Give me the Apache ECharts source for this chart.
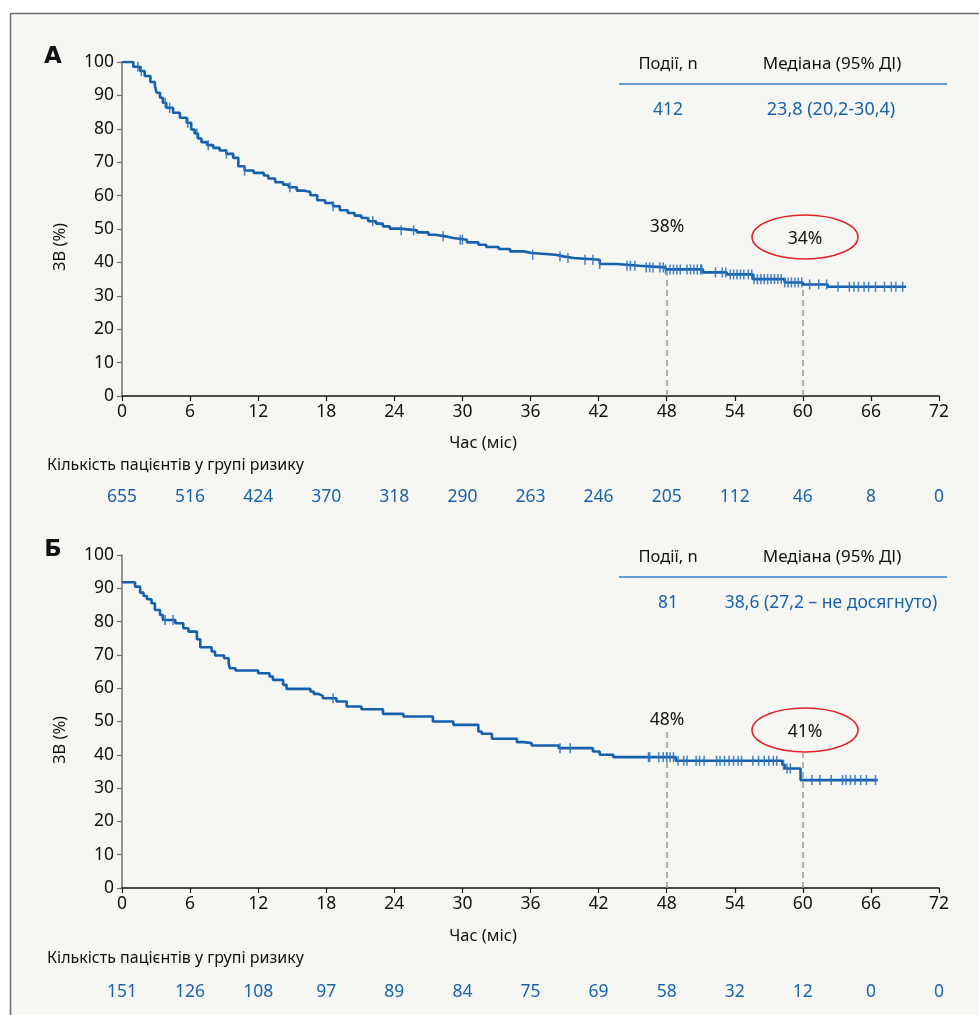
<!DOCTYPE html>
<html>
<head>
<meta charset="utf-8">
<script src="https://cdn.jsdelivr.net/npm/echarts@6/dist/echarts.min.js"></script>
<style>
html,body{margin:0;padding:0;background:#fff;}
#chart{width:979px;height:1015px;}
</style>
</head>
<body>
<div id="chart"></div>
<script>
// ---------- DATA ----------
const xTicks = [0, 6, 12, 18, 24, 30, 36, 42, 48, 54, 60, 66, 72];
const riskA = [655, 516, 424, 370, 318, 290, 263, 246, 205, 112, 46, 8, 0];
const riskB = [151, 126, 108, 97, 89, 84, 75, 69, 58, 32, 12, 0, 0];

const timesA = [0, 1.0, 1.6, 2.0, 2.5, 2.9, 3.05, 3.35, 3.6, 3.9, 4.5, 5.1, 5.7, 6.1, 6.4, 6.7, 7.0, 7.5, 8.05, 8.6, 9.2, 9.8, 10.25, 10.8, 11.6, 12.5, 12.9, 13.5, 14.2, 14.7, 15.4, 16.0, 16.6, 17.2, 17.9, 18.6, 19.2, 19.9, 20.5, 21.1, 21.7, 22.4, 23.0, 23.6, 24.5, 26.0, 27.0, 27.6, 28.5, 29.2, 30.4, 31.4, 32.1, 33.2, 34.2, 35.4, 36.1, 38.2, 38.9, 39.8, 42.1, 43.6, 45.6, 47.9, 51.2, 53.3, 55.6, 58.4, 60.0, 62.2, 69.1];
const survA = [100, 98.6, 97.3, 95.8, 94, 92.8, 90.8, 89.3, 87.8, 86.3, 84.8, 83.3, 81.8, 79.8, 78.6, 77.1, 76, 75.1, 74.3, 73.5, 72.5, 71.3, 68.8, 67.5, 66.8, 66, 65.1, 64, 63.3, 62.5, 61.5, 61.1, 60.1, 58.6, 57.8, 56.8, 55.6, 54.8, 54, 53.3, 52.3, 51.6, 50.8, 50.1, 49.6, 49, 48.3, 47.8, 47.3, 46.8, 46, 45.3, 44.6, 44, 43.3, 42.8, 42.3, 41.8, 41.3, 40.8, 39.5, 39.0, 38.5, 37.9, 37.0, 36.4, 35.0, 34.0, 33.4, 32.7, 32.7];
const censorA = [1.4, 1.7, 3.8, 4.2, 5.8, 6.6, 7.6, 9.2, 10.8, 14.8, 18.6, 22.1, 24.6, 25.7, 28.3, 29.8, 30.0, 36.2, 38.6, 39.3, 40.8, 41.5, 42.1, 44.5, 44.8, 45.2, 46.2, 46.5, 46.8, 47.4, 47.7, 47.9, 48.3, 48.6, 48.9, 49.2, 49.8, 50.1, 50.4, 50.7, 51.0, 51.1, 52.3, 52.9, 53.2, 53.6, 53.9, 54.2, 54.5, 54.8, 55.2, 55.5, 55.7, 56.0, 56.3, 56.6, 56.9, 57.2, 57.5, 57.8, 58.1, 58.4, 58.7, 59.0, 59.3, 59.6, 59.9, 60.6, 61.4, 62.1, 63.1, 64.1, 64.5, 64.9, 65.4, 65.8, 66.4, 67.2, 67.8, 68.2, 68.8];

const timesB = [0, 1.15, 1.6, 1.9, 2.2, 2.6, 2.9, 3.35, 3.6, 4.7, 5.4, 5.85, 6.6, 6.9, 7.9, 8.2, 9.0, 9.4, 9.5, 10.0, 12.0, 13.0, 13.3, 14.2, 14.5, 16.6, 16.9, 17.3, 17.7, 18.9, 19.8, 21.1, 23.0, 24.8, 27.4, 29.2, 31.4, 31.7, 32.6, 34.8, 35.4, 36.1, 38.5, 41.5, 42.1, 43.3, 48.8, 58.2, 58.4, 59.8, 66.6];
const survB = [91.8, 90.5, 88.7, 87.7, 86.7, 85.5, 83.5, 82, 80.5, 79.5, 78, 77, 74.7, 72.3, 71, 69.8, 69, 67.5, 66, 65.3, 64.5, 63.5, 62.5, 61, 59.8, 59, 58.3, 57.7, 57, 56, 54.5, 53.7, 52.3, 51.5, 50, 49, 47, 46.3, 44.8, 43.8, 43.5, 42.8, 42, 41, 40, 39.3, 38.2, 37, 35.9, 32.4, 32.4];
const censorB = [3.8, 4.5, 18.6, 38.6, 39.5, 46.4, 46.5, 47.3, 47.7, 48.0, 48.3, 48.6, 49.0, 49.5, 49.8, 50.6, 50.9, 51.3, 52.4, 52.7, 53.1, 53.5, 53.9, 54.3, 54.6, 55.6, 56.1, 56.6, 57.0, 57.4, 57.7, 58.3, 58.6, 58.9, 60.8, 61.5, 62.5, 63.5, 63.8, 64.2, 64.6, 65.1, 65.6, 66.4];

const landmarks = [48, 60];
const landmarkA = ['38%', '34%'];
const landmarkB = ['48%', '41%'];

const tableHead = ['Події, n', 'Медіана (95% ДІ)'];
const tableA = ['412', '23,8 (20,2-30,4)'];
const tableB = ['81', '38,6 (27,2 – не досягнуто)'];

// ---------- HELPERS ----------
function survAt(times, surv, t) {
  let v = surv[0];
  for (let i = 0; i < times.length; i++) { if (times[i] <= t) v = surv[i]; else break; }
  return v;
}
const pairs = (ts, ss) => ts.map((t, i) => [t, ss[i]]);
const censorPts = (cs, ts, ss) => cs.map(t => [t, survAt(ts, ss, t)]);

const FONT = 'Noto Sans';
const BLUE = '#1b62ad';
const TXT = '#111111';
const LINE = '#1560ae';

const chart = echarts.init(document.getElementById('chart'));

function xMain(g) {
  return {
    type: 'value', gridIndex: g, min: 0, max: 72, interval: 6,
    axisLine: { show: true, onZero: false, lineStyle: { color: '#111', width: 1.5 } },
    axisTick: { show: true, length: 5, lineStyle: { color: '#111', width: 1.2 } },
    splitLine: { show: false },
    axisLabel: { fontSize: 17.5, color: TXT, margin: 7, fontFamily: FONT, showMinLabel: true, showMaxLabel: true }
  };
}
function xRisk(g, risk, off) {
  return {
    type: 'value', gridIndex: g, min: 0, max: 72, interval: 6, position: 'bottom', offset: off,
    axisLine: { show: false }, axisTick: { show: false }, splitLine: { show: false },
    axisLabel: { fontSize: 17.5, color: BLUE, margin: 0, fontFamily: FONT, showMinLabel: true, showMaxLabel: true,
      formatter: v => String(risk[Math.round(v / 6)]) }
  };
}
function yMain(g) {
  return {
    type: 'value', gridIndex: g, min: 0, max: 100, interval: 10,
    axisLine: { show: true, lineStyle: { color: '#707070', width: 1.5 } },
    axisTick: { show: true, length: 5, lineStyle: { color: '#707070', width: 1.2 } },
    splitLine: { show: false },
    axisLabel: { fontSize: 17.5, color: TXT, margin: 8, fontFamily: FONT }
  };
}
function kmSeries(idx, ts, ss, marks) {
  return {
    type: 'line', xAxisIndex: idx * 2, yAxisIndex: idx, step: 'end', showSymbol: false, symbol: 'none',
    data: pairs(ts, ss), lineStyle: { color: LINE, width: 2.6 }, z: 5, silent: true,
    markLine: {
      symbol: 'none', silent: true, label: { show: false },
      lineStyle: { type: [6, 4], color: '#9a9a9a', width: 1.5 },
      data: marks
    }
  };
}
function censorSeries(idx, cs, ts, ss) {
  return {
    type: 'scatter', xAxisIndex: idx * 2, yAxisIndex: idx, symbol: 'rect', symbolSize: [1.5, 10],
    itemStyle: { color: '#2f74c0', opacity: 0.9 }, data: censorPts(cs, ts, ss), z: 6, silent: true
  };
}
const marksA = [
  [{ coord: [landmarks[0], 0] }, { coord: [landmarks[0], survAt(timesA, survA, landmarks[0])] }],
  [{ coord: [landmarks[1], 0] }, { coord: [landmarks[1], survAt(timesA, survA, landmarks[1])] }]
];
const marksB = [
  [{ coord: [landmarks[0], 0] }, { coord: [landmarks[0], 47.5] }],
  [{ coord: [landmarks[1], 0] }, { coord: [landmarks[1], 40.5] }]
];

function t(x, y, text, opt) {
  return Object.assign({ type: 'text', x: x, y: y, z: 20,
    style: Object.assign({ text: text, fontFamily: FONT, fontSize: 15, fill: TXT, align: 'center', verticalAlign: 'middle' }, opt || {}) });
}
function panelGraphics(dy, lab, tbl, lm) {
  return [
    t(53, 57 + dy, lab, { fontSize: 23, fontWeight: 'bold', fontFamily: 'DejaVu Sans' }),
    t(668, 64 + dy, tableHead[0], { fontSize: 16.5 }),
    t(832, 64 + dy, tableHead[1], { fontSize: 17 }),
    { type: 'line', z: 20, shape: { x1: 619, y1: 84 + dy, x2: 947, y2: 84 + dy }, style: { stroke: '#3b7cc6', lineWidth: 1.5 } },
    t(668, 110 + dy, tbl[0], { fontSize: 17.5, fill: BLUE }),
    t(831, 110 + dy, tbl[1], { fontSize: dy ? 17.5 : 18, fill: BLUE }),
    t(667, 227 + dy, lm[0], { fontSize: 17.5 }),
    { type: 'ellipse', z: 20, shape: { cx: 805, cy: 237 + dy, rx: 53, ry: 22 }, style: { fill: 'none', stroke: '#e2222b', lineWidth: 1.6 } },
    t(805, 239 + dy, lm[1], { fontSize: 17.5 }),
    t(60, 247 + dy, 'ЗВ (%)', { fontSize: 16.5 }),
    t(483, 443 + dy, 'Час (міс)', { fontSize: 16.5 }),
    t(47, 465 + dy, 'Кількість пацієнтів у групі ризику', { fontSize: 16, align: 'left' })
  ];
}
const gA = panelGraphics(0, 'А', tableA, landmarkA);
const gB = panelGraphics(493, 'Б', tableB, landmarkB);
// rotate y-axis names
[gA, gB].forEach(g => { const e = g[9]; e.rotation = Math.PI / 2; });

chart.setOption({
  backgroundColor: '#f6f6f2',
  animation: false,
  textStyle: { fontFamily: FONT },
  grid: [
    { left: 122, top: 62, width: 817, height: 334 },
    { left: 122, top: 555, width: 817, height: 333 }
  ],
  xAxis: [xMain(0), xRisk(0, riskA, 92), xMain(1), xRisk(1, riskB, 95)],
  yAxis: [yMain(0), yMain(1)],
  series: [
    kmSeries(0, timesA, survA, marksA),
    censorSeries(0, censorA, timesA, survA),
    kmSeries(1, timesB, survB, marksB),
    censorSeries(1, censorB, timesB, survB)
  ],
  graphic: [
    { type: 'rect', z: 30, shape: { x: 0, y: 0, width: 979, height: 13 }, style: { fill: '#ffffff' } },
    { type: 'rect', z: 30, shape: { x: 0, y: 0, width: 10, height: 1015 }, style: { fill: '#ffffff' } },
    { type: 'line', z: 31, shape: { x1: 10.5, y1: 13.5, x2: 979, y2: 13.5 }, style: { stroke: '#6b6b6b', lineWidth: 1.5 } },
    { type: 'line', z: 31, shape: { x1: 10.5, y1: 13.5, x2: 10.5, y2: 1015 }, style: { stroke: '#6b6b6b', lineWidth: 1.5 } }
  ].concat(gA, gB)
});
</script>
</body>
</html>
